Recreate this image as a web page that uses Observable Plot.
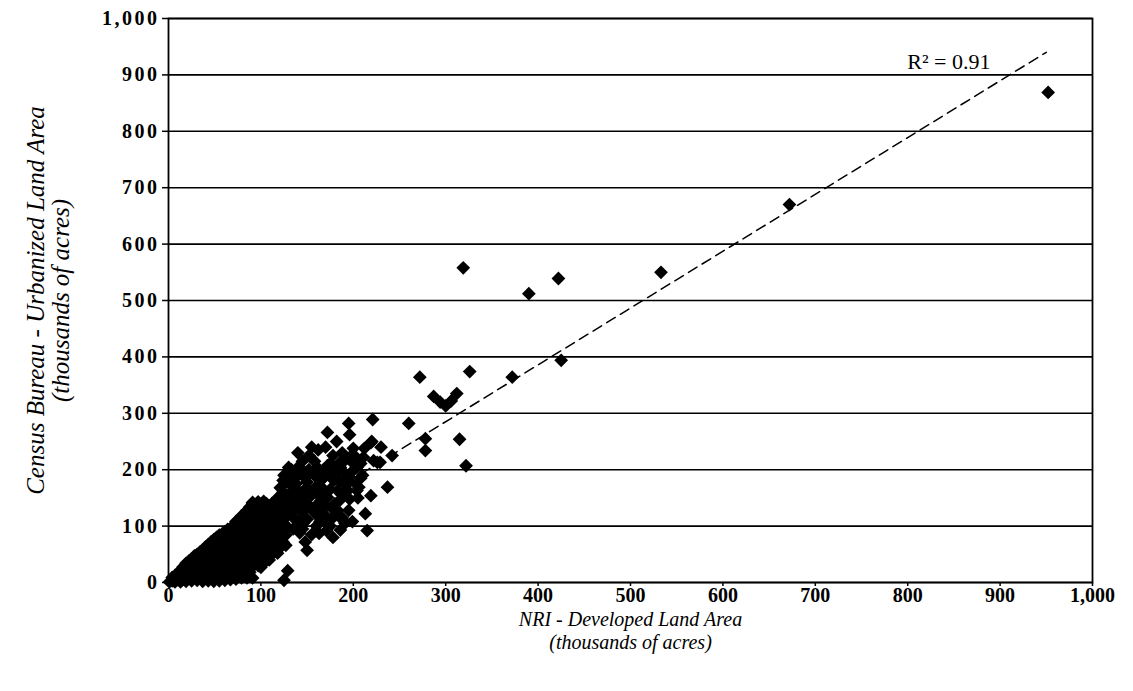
<!DOCTYPE html>
<html>
<head>
<meta charset="utf-8">
<script src="https://cdn.jsdelivr.net/npm/d3@7"></script>
<script src="https://cdn.jsdelivr.net/npm/@observablehq/plot@0.6"></script>
<style>
  html, body { margin: 0; padding: 0; background: #fff; }
  svg g[aria-label="y-axis tick label"] { letter-spacing: 2.5px; }
</style>
</head>
<body>
<div id="chart"></div>
<script>
// Tick values (thousands of acres)
const xTicks = [0, 100, 200, 300, 400, 500, 600, 700, 800, 900, 1000];
const yTicks = [0, 100, 200, 300, 400, 500, 600, 700, 800, 900, 1000];

// Dense cluster of small areas: [NRI developed, Census urbanized]
const clusterPoints = [
  [1,1],[4,3],[4,9],[7,1],[7,12],[10,5],[10,16],[13,1],[13,11],[13,22],
  [16,6],[16,18],[16,28],[19,2],[19,13],[19,25],[19,34],[22,8],[22,20],[22,32],[22,38],
  [25,3],[25,15],[25,28],[25,42],[28,10],[28,22],[28,35],[28,47],
  [31,4],[31,17],[31,30],[31,42],[31,50],[34,10],[34,24],[34,38],[34,54],
  [37,2],[37,16],[37,30],[37,44],[37,58],[40,8],[40,22],[40,36],[40,50],[40,63],
  [43,3],[43,16],[43,30],[43,44],[43,58],[43,67],[46,10],[46,24],[46,38],[46,52],[46,66],[46,72],
  [49,2],[49,18],[49,32],[49,46],[49,60],[49,76],[52,8],[52,24],[52,40],[52,54],[52,68],[52,80],
  [55,3],[55,16],[55,30],[55,46],[55,62],[55,76],[55,84],[58,10],[58,24],[58,38],[58,54],[58,70],[58,86],
  [61,4],[61,18],[61,32],[61,48],[61,64],[61,78],[61,90],[64,12],[64,26],[64,42],[64,58],[64,72],[64,88],[64,94],
  [67,5],[67,20],[67,36],[67,50],[67,66],[67,82],[67,96],[70,14],[70,28],[70,44],[70,60],[70,76],[70,90],[70,100],
  [73,6],[73,22],[73,38],[73,52],[73,68],[73,84],[73,100],[73,108],[76,14],[76,30],[76,46],[76,62],[76,78],[76,94],[76,112],
  [79,8],[79,24],[79,40],[79,56],[79,72],[79,88],[79,104],[79,118],[82,16],[82,32],[82,48],[82,64],[82,80],[82,98],[82,114],[82,122],
  [85,8],[85,26],[85,42],[85,58],[85,74],[85,90],[85,108],[85,128],[88,18],[88,34],[88,50],[88,66],[88,82],[88,100],[88,118],[88,134],
  [91,8],[91,28],[91,44],[91,60],[91,76],[91,92],[91,110],[91,126],[91,140],[94,36],[94,52],[94,68],[94,84],[94,102],[94,120],[94,136],
  [97,30],[97,46],[97,62],[97,78],[97,94],[97,112],[97,130],[97,143],[100,40],[100,56],[100,72],[100,88],[100,104],[100,122],[100,138],
  [103,34],[103,50],[103,66],[103,82],[103,98],[103,116],[103,133],[103,144],[106,44],[106,60],[106,76],[106,92],[106,110],[106,126],[106,140],
  [109,40],[109,54],[109,70],[109,86],[109,102],[109,120],[109,136],[112,50],[112,64],[112,80],[112,96],[112,112],[112,128],[112,140],
  [115,58],[115,74],[115,90],[115,106],[115,122],[115,134],[118,52],[118,68],[118,84],[118,100],[118,116],[118,132],[118,150],
  [121,62],[121,78],[121,94],[121,110],[121,126],[121,144],[121,168],[124,72],[124,88],[124,104],[124,120],[124,138],[124,160],
  [127,66],[127,84],[127,100],[127,116],[127,134],[127,152],[127,178]
];

// Mid-sized areas
const midPoints = [
  [195,282],[172,266],[152,225],[130,204],[200,238],[204,204],[172,207],[183,199],[161,204],[179,181],
  [165,181],[124,181],[135,169],[150,169],[161,157],[129,145],[143,145],[156,128],[172,151],[179,128],
  [194,163],[204,163],[188,115],[191,105],[135,115],[146,105],[129,98],[178,80],[150,57],[118,80],
  [100,27],[129,21],[125,4],[91,142],[114,140],[103,133],[219,248],[242,225],[226,213],[208,211],
  [197,216],[206,169],[219,154],[237,169],[213,122],[215,92],[189,110],[140,204],[179,204],[168,186],
  [183,163],[157,163],[132,186],[143,151],[165,128],[183,128],[121,69],[221,289],[220,250],[175,211],
  [222,216],[260,282],[278,255],[278,234],[315,254],[322,207],[211,222],[229,213],[186,204],[200,199],
  [137,130],[160,100],[168,112],[142,88],[155,85],[125,190],
  [135,95],[140,110],[145,125],[150,140],[155,155],[160,170],[165,192],[148,185],[152,200],[158,215],
  [138,175],[142,160],[132,130],[137,145],[150,112],[160,120],[170,135],[175,165],[185,180],[190,195],
  [195,185],[185,145],[165,145],[175,100],[195,128],[198,225],[188,230],[162,235],[145,215],[140,230],
  [170,240],[185,212],[210,190],[196,148],[132,160],[140,190],[168,165],[178,115],[163,87],[148,72],
  [145,95],[153,132],[162,140],[170,118],[180,140],[188,155],[192,172],[200,180],[208,185],[176,190],
  [168,200],[158,190],[150,178],[146,198],[155,240],[178,225],[190,215],[203,222],[212,238],[230,240],
  [196,262],[182,250],[140,135],[133,200],[148,155],[164,108],[171,92],[186,93],[199,108],[205,150]
];

// Large areas
const largePoints = [
  [272,364],[326,374],[372,364],[425,394],[319,558],[390,512],[422,539],
  [287,330],[294,320],[300,313],[306,322],[312,335],
  [533,550],[672,670],[952,869]
];

// Linear trend line end points
const trendX = [17, 950];
const trendY = [0, 940];
const rSquared = "R² = 0.91";

const points = [...clusterPoints, ...midPoints, ...largePoints].map(([x, y]) => ({x, y}));
const trend = trendX.map((x, i) => ({x, y: trendY[i]}));

const font = "'Liberation Serif', 'Times New Roman', serif";

const chart = Plot.plot({
  width: 1133,
  height: 691,
  marginLeft: 168,
  marginRight: 41,
  marginTop: 18,
  marginBottom: 109,
  style: { fontFamily: font, fontSize: "20px", background: "#fff", color: "#000", overflow: "visible" },
  x: { domain: [0, 1000] },
  y: { domain: [0, 1000] },
  marks: [
    Plot.gridY(yTicks, { stroke: "#000", strokeOpacity: 1, strokeWidth: 1.6 }),
    Plot.frame({ stroke: "#000", strokeWidth: 1.8 }),
    Plot.axisX(xTicks, {
      tickSize: 4, tickPadding: 1, tickFormat: d3.format(","),
      fontSize: 20, fontWeight: "bold", label: null, strokeWidth: 1.5
    }),
    Plot.axisY(yTicks, {
      tickSize: 6, tickPadding: 3, tickFormat: d3.format(","),
      fontSize: 20, fontWeight: "bold", label: null, strokeWidth: 1.5
    }),
    Plot.line(trend, {
      x: "x", y: "y", stroke: "#000", strokeWidth: 1.5, strokeDasharray: "10,6"
    }),
    Plot.dot(points, {
      x: "x", y: "y", symbol: "diamond2", r: 6.2, fill: "#000", stroke: "none"
    }),
    Plot.text([rSquared], {
      frameAnchor: "top-right", text: d => d, dx: -102, dy: 35,
      textAnchor: "end", fontSize: 22, fill: "#000"
    }),
    Plot.text(["NRI - Developed Land Area\n(thousands of acres)"], {
      frameAnchor: "bottom", text: d => d, dy: 27, lineAnchor: "top",
      textAnchor: "middle", fontSize: 20, fontStyle: "italic", lineHeight: 1.15, fill: "#000"
    }),
    Plot.text(["Census Bureau - Urbanized Land Area\n(thousands of acres)"], {
      frameAnchor: "left", text: d => d, dx: -120, rotate: -90, lineAnchor: "middle",
      textAnchor: "middle", fontSize: 25, fontStyle: "italic", lineHeight: 0.98, fill: "#000"
    })
  ]
});

document.getElementById("chart").appendChild(chart);
</script>
</body>
</html>
